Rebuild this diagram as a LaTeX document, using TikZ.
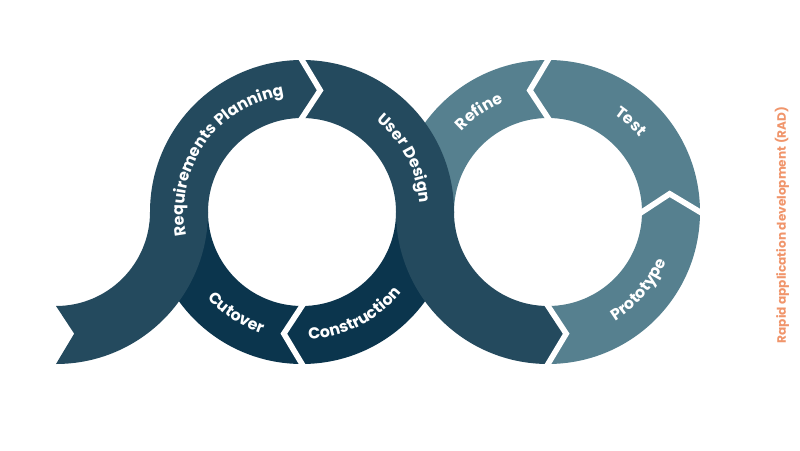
\documentclass[tikz,border=0pt]{standalone}
\usepackage{fontspec}
\setmainfont{Poppins}
\usetikzlibrary{calc,decorations.text}
\definecolor{navy}{HTML}{0B354D}
\definecolor{slate}{HTML}{244A5E}
\definecolor{steel}{HTML}{56808F}
\definecolor{peach}{HTML}{F0956B}
\newcommand\lbl{\fontsize{9}{11}\selectfont\bfseries}
% text on the outer side of a ring (clockwise path)
\newcommand\cwtext[4]{\path[decorate,decoration={text along path,text align=center,text color=white,text={|\lbl|#4}}]
  ($(#1)+(#2+#3:118)$) arc[start angle=#2+#3,end angle=#2-#3,radius=118];}
% text on the inner side of a ring (counter clockwise path)
\newcommand\ccwtext[4]{\path[decorate,decoration={text along path,text align=center,text color=white,text={|\lbl|#4}}]
  ($(#1)+(#2-#3:128)$) arc[start angle=#2-#3,end angle=#2+#3,radius=128];}
\begin{document}
\begin{tikzpicture}[x=0.02cm,y=0.02cm,
gap/.style={draw=white,line width=3.2pt,line cap=rect,line join=miter}]
\useasboundingbox (0,0) rectangle (800,450);
\def\rin{94} \def\rout{152} \def\rmid{123} \def\dlt{8.5}
\coordinate (L) at (302,238);
\coordinate (R) at (548,238);
\coordinate (T) at (56,238);

% cutover and construction
\fill[navy] ($(L)+(180:\rout)$) arc[start angle=180,end angle=270,radius=\rout] -- ($(L)+(270-\dlt:\rmid)$)
  -- ($(L)+(270:\rin)$) arc[start angle=270,end angle=180,radius=\rin] -- cycle;
\fill[navy] ($(L)+(270:\rout)$) -- ($(L)+(270-\dlt:\rmid)$) -- ($(L)+(270:\rin)$)
  arc[start angle=270,end angle=360,radius=\rin] -- ($(L)+(0:\rout)$) arc[start angle=360,end angle=270,radius=\rout] -- cycle;
% refine, test, prototype
\fill[steel] ($(R)+(90:\rout)$) -- ($(R)+(90+\dlt:\rmid)$) -- ($(R)+(90:\rin)$)
  arc[start angle=90,end angle=180,radius=\rin] -- ($(R)+(180:\rout)$) arc[start angle=180,end angle=90,radius=\rout] -- cycle;
\fill[steel] ($(R)+(0:\rout)$) -- ($(R)+(\dlt:\rmid)$) -- ($(R)+(0:\rin)$)
  arc[start angle=0,end angle=90,radius=\rin] -- ($(R)+(90+\dlt:\rmid)$) -- ($(R)+(90:\rout)$)
  arc[start angle=90,end angle=0,radius=\rout] -- cycle;
\fill[steel] ($(R)+(270:\rout)$) -- ($(R)+(270+\dlt:\rmid)$) -- ($(R)+(270:\rin)$)
  arc[start angle=270,end angle=360,radius=\rin] -- ($(R)+(\dlt:\rmid)$) -- ($(R)+(0:\rout)$)
  arc[start angle=360,end angle=270,radius=\rout] -- cycle;
% requirements planning with its tail
\fill[slate] ($(T)+(270:\rout)$) arc[start angle=270,end angle=360,radius=\rout]
  arc[start angle=180,end angle=90,radius=\rin] -- ($(L)+(90-\dlt:\rmid)$) -- ($(L)+(90:\rout)$)
  arc[start angle=90,end angle=180,radius=\rout] arc[start angle=0,end angle=-90,radius=\rin]
  -- ($(T)+(270+\dlt:\rmid)$) -- cycle;
% user design
\fill[slate] ($(L)+(90:\rout)$) -- ($(L)+(90-\dlt:\rmid)$) -- ($(L)+(90:\rin)$)
  arc[start angle=90,end angle=0,radius=\rin] arc[start angle=180,end angle=270,radius=\rout]
  -- ($(R)+(270+\dlt:\rmid)$) -- ($(R)+(270:\rin)$)
  arc[start angle=270,end angle=180,radius=\rin] arc[start angle=0,end angle=90,radius=\rout] -- cycle;

\draw[gap] ($(L)+(90:\rout)$) -- ($(L)+(90-\dlt:\rmid)$) -- ($(L)+(90:\rin)$);
\draw[gap] ($(L)+(270:\rout)$) -- ($(L)+(270-\dlt:\rmid)$) -- ($(L)+(270:\rin)$);
\draw[gap] ($(R)+(90:\rout)$) -- ($(R)+(90+\dlt:\rmid)$) -- ($(R)+(90:\rin)$);
\draw[gap] ($(R)+(0:\rout)$) -- ($(R)+(\dlt:\rmid)$) -- ($(R)+(0:\rin)$);
\draw[gap] ($(R)+(270:\rout)$) -- ($(R)+(270+\dlt:\rmid)$) -- ($(R)+(270:\rin)$);

\cwtext{L}{145}{65}{Requirements Planning}
\cwtext{L}{27.5}{50}{User Design}
\ccwtext{L}{237}{40}{Cutover}
\ccwtext{L}{297}{45}{Construction}
\cwtext{R}{124.5}{40}{Refine}
\cwtext{R}{47.5}{40}{Test}
\ccwtext{R}{319.5}{45}{Prototype}

\node[rotate=90,text=peach,font=\fontsize{6.9}{8}\selectfont\bfseries] (radlbl) at (782,225) {Rapid application development (RAD)};
\end{tikzpicture}
\end{document}
